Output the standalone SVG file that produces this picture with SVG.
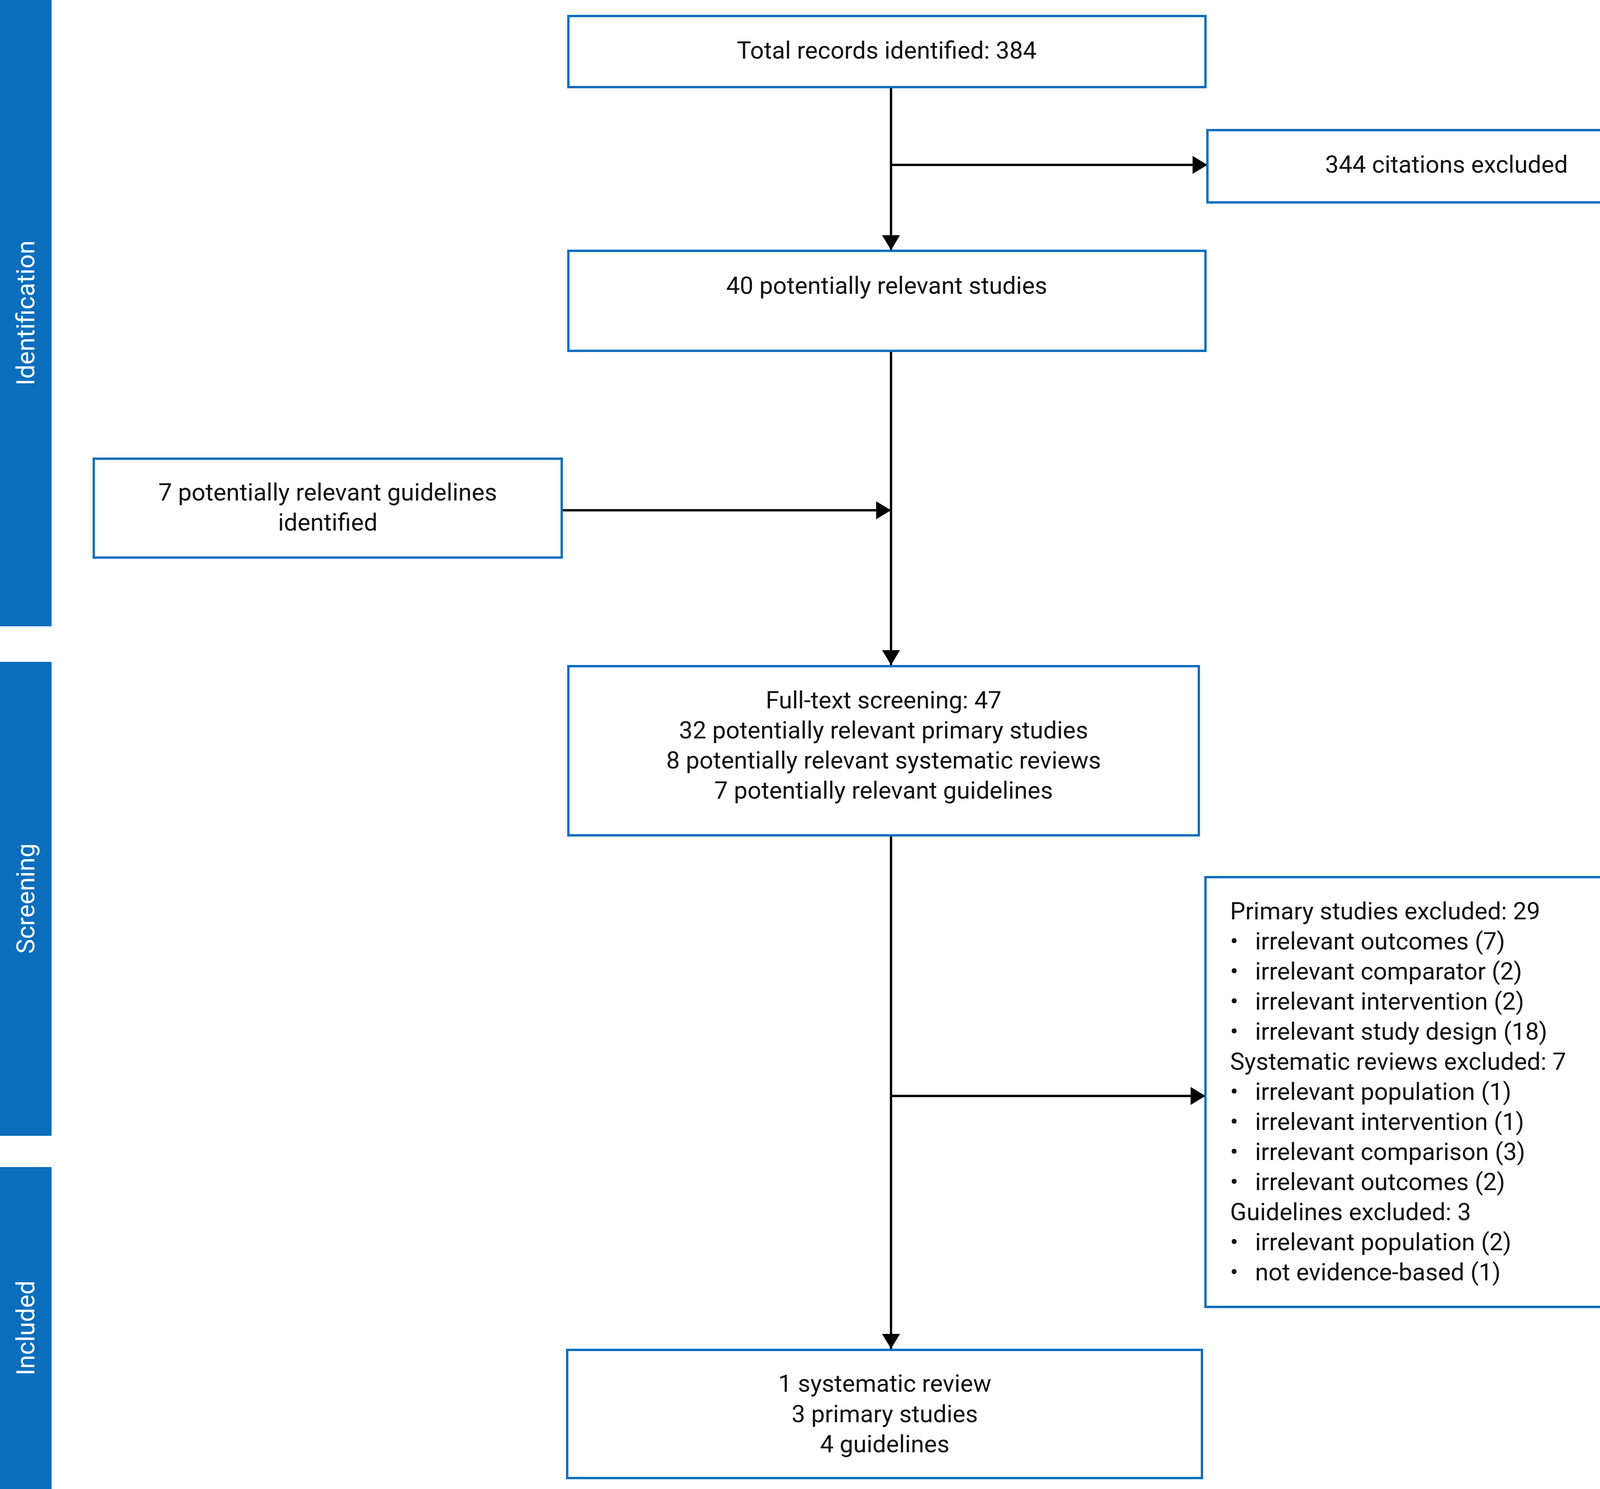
<svg xmlns="http://www.w3.org/2000/svg" width="4320" height="3811" viewBox="0 0 4320 3811">
<style>
.box{fill:#fff;stroke:#0a6ebd;stroke-width:6}
.bar{fill:#0a6ebd}
text{font-family:Roboto,"Liberation Sans",sans-serif;font-size:62px;fill:#111;dominant-baseline:central}
.c{text-anchor:middle}
.side{fill:#fff;text-anchor:middle;font-size:64px}
.ln{stroke:#000;stroke-width:6;fill:none}
</style>
<defs>
<marker id="ah" markerUnits="userSpaceOnUse" markerWidth="40" markerHeight="46" refX="38" refY="23" orient="auto">
<path d="M0,0 L38,23 L0,46 Z" fill="#000"/>
</marker>
</defs>
<rect width="4320" height="3811" fill="#fff"/>
<g id="phases">
<rect class="bar" x="0" y="0" width="132" height="1603"/>
<text class="side" transform="translate(66,801) rotate(-90)">Identification</text>
<rect class="bar" x="0" y="1694" width="132" height="1213"/>
<text class="side" transform="translate(66,2300) rotate(-90)">Screening</text>
<rect class="bar" x="0" y="2987" width="132" height="824"/>
<text class="side" transform="translate(66,3399) rotate(-90)">Included</text>
</g>
<g id="connectors">
<line class="ln" x1="2281" y1="223" x2="2281" y2="640" marker-end="url(#ah)"/>
<line class="ln" x1="2281" y1="422" x2="3091" y2="422" marker-end="url(#ah)"/>
<line class="ln" x1="2281" y1="898" x2="2281" y2="1702" marker-end="url(#ah)"/>
<line class="ln" x1="1438" y1="1306" x2="2281" y2="1306" marker-end="url(#ah)"/>
<line class="ln" x1="2281" y1="2138" x2="2281" y2="3452" marker-end="url(#ah)"/>
<line class="ln" x1="2281" y1="2805" x2="3086" y2="2805" marker-end="url(#ah)"/>
</g>
<g id="n1"><rect class="box" x="1455" y="41" width="1631" height="182"/>
<text class="c" x="2270" y="128">Total records identified: 384</text></g>
<g id="n2"><rect class="box" x="3091" y="333" width="1224" height="185"/>
<text class="c" x="3703" y="420">344 citations excluded</text></g>
<g id="n3"><rect class="box" x="1455" y="642" width="1631" height="256"/>
<text class="c" x="2270" y="730">40 potentially relevant studies</text></g>
<g id="n4"><rect class="box" x="240" y="1174" width="1198" height="253"/>
<text class="c" x="839" y="1259">7 potentially relevant guidelines</text>
<text class="c" x="839" y="1336">identified</text></g>
<g id="n5"><rect class="box" x="1455" y="1705" width="1614" height="433"/>
<text class="c" x="2262" y="1791">Full-text screening: 47</text>
<text class="c" x="2262" y="1868">32 potentially relevant primary studies</text>
<text class="c" x="2262" y="1945">8 potentially relevant systematic reviews</text>
<text class="c" x="2262" y="2022">7 potentially relevant guidelines</text></g>
<g id="n6"><rect class="box" x="3086" y="2245" width="1229" height="1100"/>
<text x="3149" y="2331">Primary studies excluded: 29</text>
<text x="3149" y="2408">•</text><text x="3213" y="2408">irrelevant outcomes (7)</text>
<text x="3149" y="2485">•</text><text x="3213" y="2485">irrelevant comparator (2)</text>
<text x="3149" y="2562">•</text><text x="3213" y="2562">irrelevant intervention (2)</text>
<text x="3149" y="2639">•</text><text x="3213" y="2639">irrelevant study design (18)</text>
<text x="3149" y="2716">Systematic reviews excluded: 7</text>
<text x="3149" y="2793">•</text><text x="3213" y="2793">irrelevant population (1)</text>
<text x="3149" y="2870">•</text><text x="3213" y="2870">irrelevant intervention (1)</text>
<text x="3149" y="2947">•</text><text x="3213" y="2947">irrelevant comparison (3)</text>
<text x="3149" y="3024">•</text><text x="3213" y="3024">irrelevant outcomes (2)</text>
<text x="3149" y="3101">Guidelines excluded: 3</text>
<text x="3149" y="3178">•</text><text x="3213" y="3178">irrelevant population (2)</text>
<text x="3149" y="3255">•</text><text x="3213" y="3255">not evidence-based (1)</text></g>
<g id="n7"><rect class="box" x="1452" y="3455" width="1625" height="328"/>
<text class="c" x="2265" y="3540">1 systematic review</text>
<text class="c" x="2265" y="3618">3 primary studies</text>
<text class="c" x="2265" y="3695">4 guidelines</text></g>
</svg>
